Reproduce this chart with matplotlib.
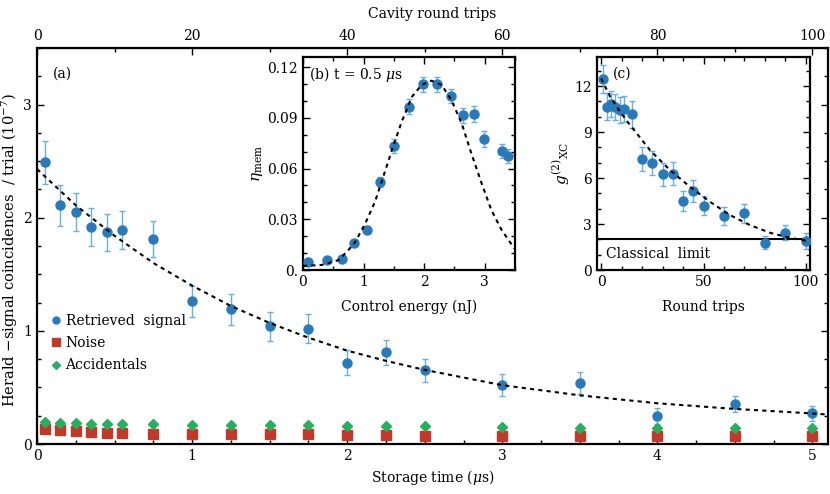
import numpy as np
import matplotlib
matplotlib.use('Agg')
import matplotlib.pyplot as plt
from matplotlib.lines import Line2D
from matplotlib.ticker import MultipleLocator, FixedLocator

plt.rcParams['font.family'] = 'DejaVu Serif'
plt.rcParams['mathtext.fontset'] = 'dejavuserif'
plt.rcParams['font.size'] = 10

# main panel (a): storage time data
t_us = [0.05, 0.15, 0.25, 0.35, 0.45, 0.55, 0.75, 1.0, 1.25, 1.5, 1.75,
        2.0, 2.25, 2.5, 3.0, 3.5, 4.0, 4.5, 5.0]
signal = [2.49, 2.11, 2.05, 1.92, 1.87, 1.89, 1.81, 1.26, 1.19, 1.04, 1.02,
          0.72, 0.81, 0.65, 0.52, 0.54, 0.25, 0.35, 0.27]
signal_err = [0.19, 0.18, 0.17, 0.17, 0.16, 0.17, 0.16, 0.14, 0.14, 0.13, 0.13,
              0.11, 0.11, 0.10, 0.10, 0.10, 0.07, 0.07, 0.07]
noise = [0.13, 0.12, 0.115, 0.105, 0.10, 0.095, 0.09, 0.09, 0.09, 0.088, 0.085,
         0.08, 0.08, 0.075, 0.075, 0.07, 0.07, 0.07, 0.068]
accidentals = [0.195, 0.19, 0.185, 0.18, 0.18, 0.18, 0.175, 0.17, 0.17, 0.165, 0.165,
               0.16, 0.155, 0.155, 0.15, 0.145, 0.14, 0.14, 0.14]
fit_t = [0, 0.25, 0.5, 0.75, 1.0, 1.25, 1.5, 1.75, 2.0, 2.25, 2.5, 3.0, 3.5, 4.0, 4.5, 5.0, 5.1]
fit_a = [2.43, 2.11, 1.84, 1.60, 1.40, 1.22, 1.07, 0.94, 0.825, 0.735, 0.655, 0.52, 0.43,
         0.36, 0.31, 0.27, 0.26]

# inset (b): efficiency vs control energy
energy = [0.09, 0.395, 0.64, 0.845, 1.065, 1.27, 1.51, 1.75, 1.99, 2.22, 2.44, 2.64,
          2.83, 2.99, 3.28, 3.39]
eta = [0.0046, 0.0059, 0.0063, 0.0162, 0.0237, 0.0523, 0.0734, 0.0966, 0.1099, 0.1099,
       0.103, 0.0915, 0.0923, 0.0775, 0.0704, 0.0675]
eta_err = [0.001, 0.001, 0.001, 0.0015, 0.002, 0.003, 0.004, 0.0043, 0.0045, 0.0045,
           0.0043, 0.0045, 0.0045, 0.0045, 0.0043, 0.0043]
fit_e = [0.0, 0.31, 0.59, 0.75, 0.86, 1.03, 1.19, 1.30, 1.47, 1.63, 1.80, 1.96, 2.12,
         2.29, 2.45, 2.62, 2.78, 2.95, 3.11, 3.28, 3.47, 3.5]
fit_b = [0.0024, 0.003, 0.0059, 0.0118, 0.0164, 0.0276, 0.0404, 0.0523, 0.071, 0.0877,
         0.1025, 0.1095, 0.112, 0.1095, 0.1006, 0.0868, 0.069, 0.0513, 0.0355, 0.0237,
         0.0138, 0.0125]

# inset (c): cross-correlation vs round trips
trips = [1, 3, 5, 7, 9, 11, 15, 20, 25, 30, 35, 40, 45, 50, 60, 70, 80, 90, 100]
g2 = [12.47, 10.67, 10.84, 10.63, 10.45, 10.51, 10.15, 7.26, 6.98, 6.24, 6.29, 4.51,
      5.16, 4.19, 3.51, 3.69, 1.78, 2.43, 1.89]
g2_err = [0.9, 0.85, 0.85, 0.85, 0.85, 0.85, 0.87, 0.8, 0.78, 0.74, 0.74, 0.65, 0.7,
          0.63, 0.6, 0.65, 0.43, 0.5, 0.5]
fit_n = [0, 4.5, 9.4, 14.3, 19.1, 24, 33.8, 43.5, 53.3, 63, 72.7, 82.5, 92.2, 100.3]
fit_c = [12.5, 11.3, 10.3, 9.43, 8.63, 7.8, 6.5, 5.42, 4.44, 3.58, 2.93, 2.43, 2.1, 1.91]

blue = '#2a7ab9'
ebar = '#6aaee0'
red = '#c0392b'
green = '#27ae60'


def frame(ax, lw=1.6):
    for s in ax.spines.values():
        s.set_linewidth(lw)
    ax.tick_params(which='both', direction='in', top=True, right=True, width=1)
    ax.tick_params(which='major', length=5)
    ax.tick_params(which='minor', length=3)


fig = plt.figure(figsize=(8.3, 4.94), dpi=100)
ax = fig.add_axes([0.0446, 0.1012, 0.953, 0.8016])
ax.errorbar(t_us, signal, yerr=signal_err, fmt='none', ecolor=ebar, elinewidth=1,
            capsize=2.5, capthick=1, zorder=2)
ax.plot(t_us, signal, 'o', color=blue, ms=6.5, zorder=3)
ax.plot(t_us, noise, 's', color=red, ms=6.5, zorder=3)
ax.plot(t_us, accidentals, 'D', color=green, ms=5, zorder=4)
ax.plot(fit_t, fit_a, color='black', lw=1.5, ls=(0, (2, 2)), zorder=4)
ax.set_xlim(0, 5.1)
ax.set_ylim(0, 3.5)
ax.xaxis.set_major_locator(FixedLocator([0, 1, 2, 3, 4, 5]))
ax.xaxis.set_minor_locator(MultipleLocator(0.25))
ax.yaxis.set_major_locator(FixedLocator([0, 1, 2, 3]))
ax.yaxis.set_minor_locator(MultipleLocator(0.25))
frame(ax)
ax.tick_params(which='both', top=False)
ax.set_xlabel(r'Storage time ($\mu$s)')
ax.set_ylabel(r'Herald $-$signal coincidences  / trial (10$^{-7}$)', fontsize=10.5)
ax.yaxis.set_label_coords(-0.021, 0.49)
ax.text(0.103, 3.27, '(a)', ha='left', va='center')

top = ax.secondary_xaxis('top', functions=(lambda x: x * 20, lambda n: n / 20))
top.xaxis.set_major_locator(FixedLocator([0, 20, 40, 60, 80, 100]))
top.xaxis.set_minor_locator(MultipleLocator(10))
top.tick_params(which='both', direction='in', width=1)
top.tick_params(which='major', length=5)
top.tick_params(which='minor', length=3)
top.set_xlabel('Cavity round trips', labelpad=8)

handles = [Line2D([], [], ls='none', marker='o', color=blue, ms=5),
           Line2D([], [], ls='none', marker='s', color=red, ms=5.5),
           Line2D([], [], ls='none', marker='D', color=green, ms=4.5)]
ax.legend(handles, ['Retrieved  signal', 'Noise', 'Accidentals'], loc='upper left',
          bbox_to_anchor=(0.008, 0.35), frameon=False, handlelength=0.6,
          handletextpad=0.4, labelspacing=0.6, borderaxespad=0.2)

# inset b
axb = fig.add_axes([0.365, 0.4534, 0.2554, 0.4312])
axb.errorbar(energy, eta, yerr=eta_err, fmt='none', ecolor=ebar, elinewidth=1,
             capsize=2.5, capthick=1, zorder=2)
axb.plot(energy, eta, 'o', color=blue, ms=6.5, zorder=3)
axb.plot(fit_e, fit_b, color='black', lw=1.5, ls=(0, (2, 2)), zorder=4)
axb.set_xlim(0, 3.5)
axb.set_ylim(0, 0.126)
axb.xaxis.set_major_locator(FixedLocator([0, 1, 2, 3]))
axb.xaxis.set_minor_locator(MultipleLocator(0.5))
axb.yaxis.set_major_locator(FixedLocator([0, 0.03, 0.06, 0.09, 0.12]))
axb.yaxis.set_minor_locator(MultipleLocator(0.01))
axb.set_yticklabels(['0.', '0.03', '0.06', '0.09', '0.12'])
frame(axb)
axb.set_xlabel('Control energy (nJ)', labelpad=8)
axb.set_ylabel(r'$\eta_{\mathrm{mem}}$', labelpad=2, fontsize=11)
axb.text(0.03, 0.92, r'(b) t = 0.5 $\mu$s', transform=axb.transAxes, ha='left', va='center')

# inset c
axc = fig.add_axes([0.7193, 0.4534, 0.2566, 0.4312])
axc.errorbar(trips, g2, yerr=g2_err, fmt='none', ecolor=ebar, elinewidth=1,
             capsize=2.5, capthick=1, zorder=2)
axc.plot(trips, g2, 'o', color=blue, ms=6.5, zorder=3)
axc.plot(fit_n, fit_c, color='black', lw=1.5, ls=(0, (2, 2)), zorder=4)
axc.axhline(2, color='black', lw=1.5, zorder=1)
axc.set_xlim(-2, 102)
axc.set_ylim(0, 13.9)
axc.xaxis.set_major_locator(FixedLocator([0, 50, 100]))
axc.xaxis.set_minor_locator(MultipleLocator(10))
axc.yaxis.set_major_locator(FixedLocator([0, 3, 6, 9, 12]))
axc.yaxis.set_minor_locator(MultipleLocator(1))
frame(axc)
axc.set_xlabel('Round trips', labelpad=8)
axc.set_ylabel(r'$g^{(2)}{}_{\mathrm{XC}}$', labelpad=2, fontsize=11)
axc.text(0.074, 0.92, '(c)', transform=axc.transAxes, ha='left', va='center')
axc.text(0.042, 0.075, 'Classical  limit', transform=axc.transAxes, ha='left', va='center')

fig.savefig('out.png', dpi=100)
